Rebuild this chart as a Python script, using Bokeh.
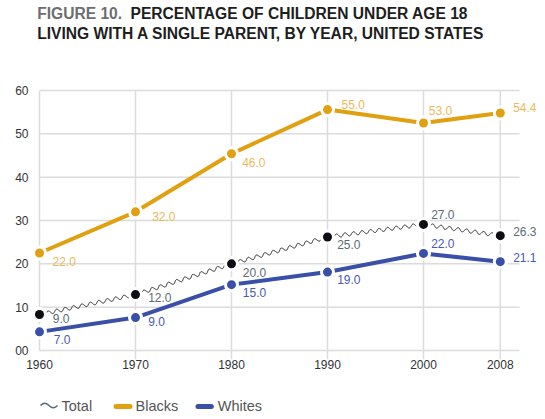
import math
from bokeh.plotting import figure
from bokeh.layouts import column
from bokeh.models import ColumnDataSource, LabelSet, Label, FixedTicker, Range1d
from bokeh.core.properties import value
from bokeh.embed import file_html
from bokeh.resources import INLINE

# ---------------- data ----------------
years = [1960, 1970, 1980, 1990, 2000, 2008]
# positions of the markers as drawn in the figure
total = [8.3, 12.9, 20.0, 26.2, 29.1, 26.5]
blacks = [22.5, 32.0, 45.4, 55.6, 52.5, 54.8]
whites = [4.3, 7.6, 15.2, 18.1, 22.4, 20.5]
# values printed next to the markers
total_labels = ["9.0", "12.0", "20.0", "25.0", "27.0", "26.3"]
blacks_labels = ["22.0", "32.0", "46.0", "55.0", "53.0", "54.4"]
whites_labels = ["7.0", "9.0", "15.0", "19.0", "22.0", "21.1"]
series_names = ["Total", "Blacks", "Whites"]
y_ticks = [0, 10, 20, 30, 40, 50, 60]
x_ticks = years
grid_x_end = 2010

# ---------------- layout / style ----------------
W, H = 545, 385          # main figure
LEG_H = 34               # legend strip below
FRAME_L, FRAME_B = 30, 359   # frame left / bottom edges (px)
PX_X0, PX_Y0 = 39, 350       # pixel of (1960, 0)
SX = 9.6                     # px per year
SY = 260 / 60                # px per percentage point

X_START = years[0] - (PX_X0 - FRAME_L) / SX
X_END = years[0] + (W - PX_X0) / SX
Y_START = -(FRAME_B - PX_Y0) / SY
Y_END = PX_Y0 / SY


def dx_(px):
    return years[0] + (px - PX_X0) / SX


def dy_(py):
    return (PX_Y0 - py) / SY


GOLD = "#e0a00f"
GOLD_TXT = "#ebb95a"
BLUE = "#3a4fa8"
BLUE_TXT = "#4a58b4"
TOT_TXT = "#5d6b74"
GRID = "#dcdcdc"
FONT = "Liberation Sans"

# label offsets in pixels (dx right, dy down)
blacks_off = [(13, 8.2), (16.7, 4.4), (10.7, 8.4), (14, -4.8), (5.3, -12.5), (12.9, -5.8)]
total_off = [(13.3, 3.7), (12.7, 2.6), (11.3, 9), (9.7, 7.5), (7.7, -9.9), (12.9, -4.5)]
whites_off = [(14.3, 7.6), (12.7, 3.9), (11.3, 7.9), (9.7, 7.1), (7.7, -10.2), (12.9, -4.5)]


def wavy(xs, ys, lam=8.6, amp=1.8, gap=7.0, step=0.5):
    """Render the line between data points as a wavy stroke (style only)."""
    wx, wy = [], []
    for i in range(len(xs) - 1):
        ax, ay = (xs[i] - years[0]) * SX, ys[i] * SY
        bx, by = (xs[i + 1] - years[0]) * SX, ys[i + 1] * SY
        L = math.hypot(bx - ax, by - ay)
        ux, uy = (bx - ax) / L, (by - ay) / L
        nx, ny = -uy, ux
        n = int((L - 2 * gap) / step)
        for k in range(n + 1):
            s = gap + k * step
            w = amp * math.sin(2 * math.pi * (s - gap) / lam)
            wx.append(years[0] + (ax + ux * s + nx * w) / SX)
            wy.append((ay + uy * s + ny * w) / SY)
        wx.append(float("nan"))
        wy.append(float("nan"))
    return wx, wy


p = figure(width=W, height=H, x_range=Range1d(X_START, X_END),
           y_range=Range1d(Y_START, Y_END),
           output_backend="svg", toolbar_location=None,
           min_border_left=FRAME_L, min_border_right=0,
           min_border_top=0, min_border_bottom=H - FRAME_B)
p.outline_line_color = None
p.background_fill_color = "white"
p.border_fill_color = "white"
p.grid.visible = False

p.xaxis.ticker = FixedTicker(ticks=x_ticks)
p.yaxis.ticker = FixedTicker(ticks=y_ticks)
p.yaxis.major_label_overrides = {0: "00"}
for ax in (p.xaxis, p.yaxis):
    ax.axis_line_color = None
    ax.major_tick_line_color = None
    ax.minor_tick_line_color = None
    ax.major_tick_in = 0
    ax.major_tick_out = 0
    ax.major_label_text_font = FONT
    ax.major_label_text_font_size = "12px"
    ax.major_label_text_color = "#333333"
p.xaxis.major_label_standoff = 0
p.yaxis.major_label_standoff = 2

# grid lines (from the tick lists)
p.segment(x0=[years[0]] * len(y_ticks), x1=[grid_x_end] * len(y_ticks),
          y0=y_ticks, y1=y_ticks, line_color=GRID, line_width=1.5)
p.segment(x0=x_ticks, x1=x_ticks,
          y0=[y_ticks[0]] + [Y_START] * (len(x_ticks) - 1),
          y1=[y_ticks[-1]] * len(x_ticks), line_color=GRID, line_width=1.5)

# lines
wx, wy = wavy(years, total)
p.line(wx, wy, line_color="#2a2a2a", line_width=1)
p.line(years, blacks, line_color=GOLD, line_width=4)
p.line(years, whites, line_color=BLUE, line_width=4)

# markers with white halo
for vals, col in ((total, "#0d0d12"), (blacks, GOLD), (whites, BLUE)):
    p.scatter(years, vals, size=15, fill_color="white", line_color=None)
    p.scatter(years, vals, size=9, fill_color=col, line_color=None)

# value labels
for vals, labs, off, col in ((total, total_labels, total_off, TOT_TXT),
                             (blacks, blacks_labels, blacks_off, GOLD_TXT),
                             (whites, whites_labels, whites_off, BLUE_TXT)):
    src = ColumnDataSource(dict(x=years, y=vals, t=labs,
                                xo=[o[0] for o in off],
                                yo=[-o[1] for o in off]))
    p.add_layout(LabelSet(x="x", y="y", text="t", x_offset="xo", y_offset="yo",
                          source=src, text_font=value(FONT),
                          text_font_size=value("12px"),
                          text_color=col, text_baseline="middle",
                          text_align="left"))

# title
TSZ = "15.6px"
p.add_layout(Label(x=dx_(36.7), y=dy_(12.7), text="FIGURE 10.", text_font=FONT,
                   text_font_style="bold", text_font_size=TSZ,
                   text_color="#6d6e71", text_baseline="middle"))
p.add_layout(Label(x=dx_(130), y=dy_(12.7), text="PERCENTAGE OF CHILDREN UNDER AGE 18",
                   text_font=FONT, text_font_style="bold", text_font_size=TSZ,
                   text_color="#1e1e1e", text_baseline="middle"))
p.add_layout(Label(x=dx_(36.7), y=dy_(32.7),
                   text="LIVING WITH A SINGLE PARENT, BY YEAR, UNITED STATES",
                   text_font=FONT, text_font_style="bold", text_font_size=TSZ,
                   text_color="#1e1e1e", text_baseline="middle"))

# ---------------- legend strip (page pixel coordinates) ----------------
# the column aligns this frame with the main frame (left edge at FRAME_L)
lg = figure(width=W, height=LEG_H, x_range=Range1d(FRAME_L, W), y_range=Range1d(LEG_H, 0),
            output_backend="svg", toolbar_location=None,
            x_axis_location=None, y_axis_location=None,
            min_border_left=FRAME_L, min_border_right=0,
            min_border_top=0, min_border_bottom=0)
lg.outline_line_color = None
lg.grid.visible = False
LYC = 20
tx = [40 + 0.5 * i for i in range(35)]
lg.line(tx, [LYC - 2.2 * math.sin(2 * math.pi * (t - 40) / 17) for t in tx],
        line_color=TOT_TXT, line_width=1.5)
lg.segment(x0=[115.5, 197.5], x1=[129.5, 210.8], y0=[LYC + 1, LYC + 1],
           y1=[LYC + 1, LYC + 1], line_color=[GOLD, BLUE], line_width=5,
           line_cap="round")
lg.text(x=[61, 135, 217.3], y=[LYC] * 3, text=series_names,
        text_font=value(FONT), text_font_size=value("14.5px"),
        text_color="#555555", text_baseline="middle", text_align="left")

layout = column(p, lg, spacing=0)
open("out.html", "w").write(file_html(layout, INLINE))
